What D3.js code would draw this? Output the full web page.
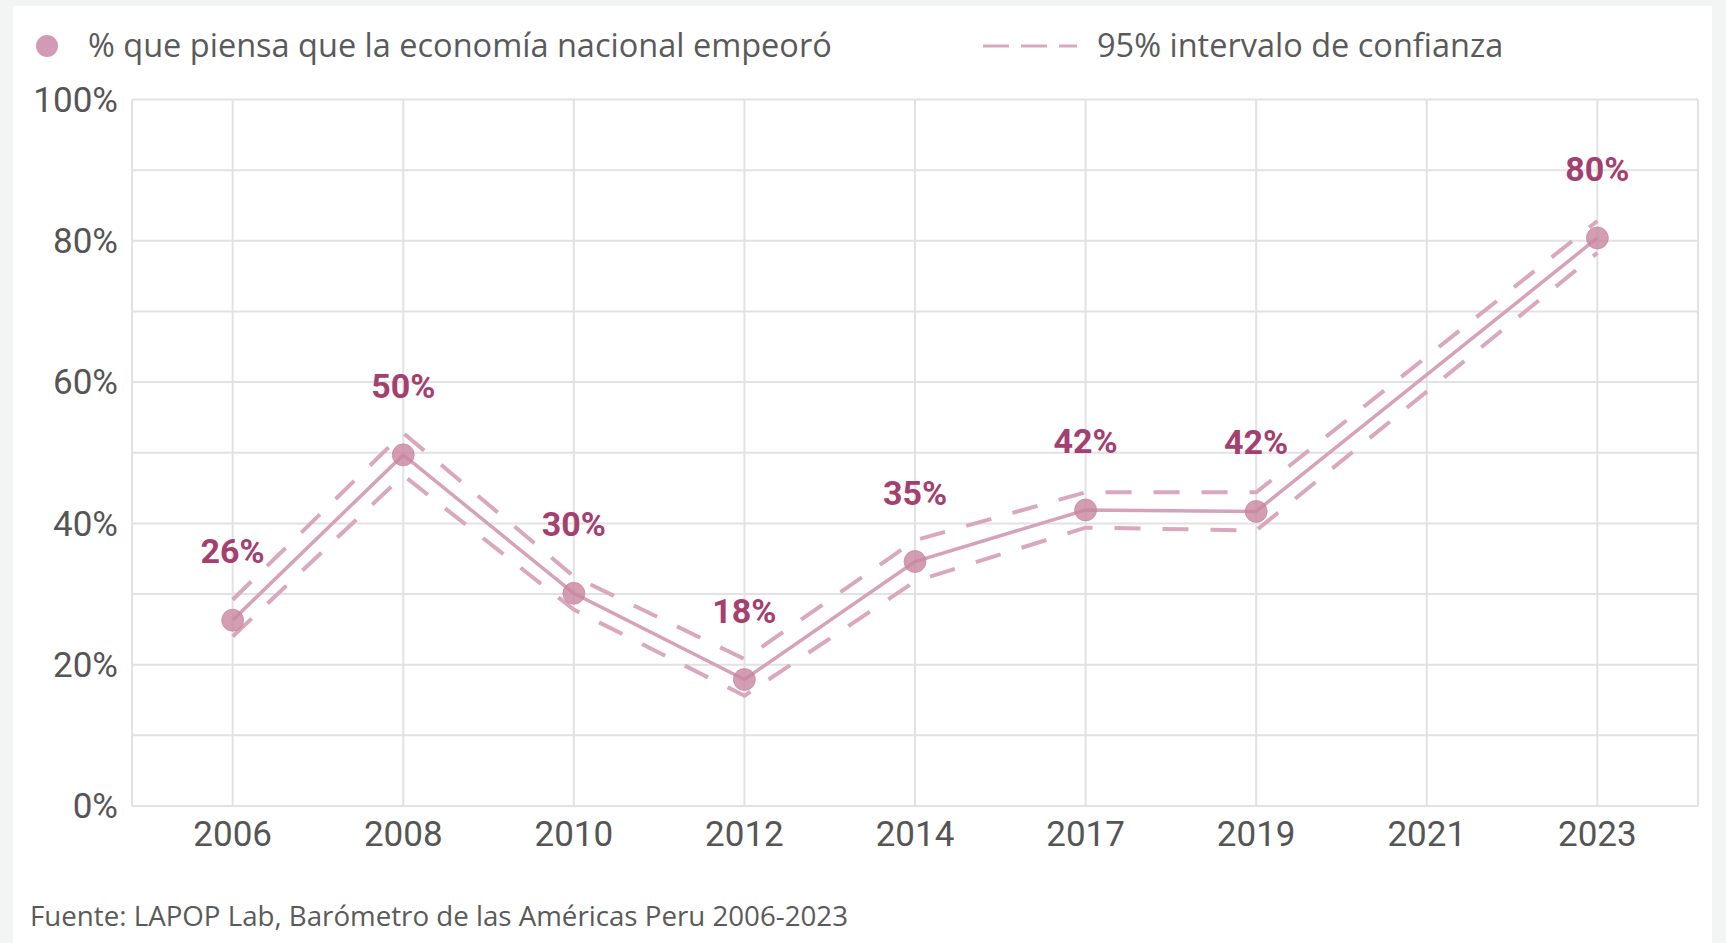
<!DOCTYPE html>
<meta charset="utf-8">
<script src="https://d3js.org/d3.v7.min.js"></script>
<style>
  body { margin: 0; background: #f3f5f5; }
  svg { display: block; }
  .tick-label { font-family: Roboto, sans-serif; font-size: 35px; fill: #555; }
  .legend, .source { font-family: "Open Sans", sans-serif; fill: #5a5a5a; }
  .val { font-family: Roboto, sans-serif; font-weight: bold; font-size: 34px; fill: #a3406f; }
</style>
<body></body>
<script>
  // data
  var years = ["2006", "2008", "2010", "2012", "2014", "2017", "2019", "2021", "2023"];
  var values = [26.3, 49.7, 30.1, 17.9, 34.6, 41.9, 41.7, null, 80.4];
  var upper  = [29.2, 52.8, 32.5, 20.8, 37.6, 44.4, 44.4, null, 82.8];
  var lower  = [24.0, 46.8, 27.8, 15.6, 31.8, 39.4, 39.0, null, 78.3];
  var yTicks = [0, 20, 40, 60, 80, 100];

  var width = 1726, height = 943;
  var margin = {top: 99.5, right: 28, bottom: 137, left: 132};

  var svg = d3.select("body").append("svg")
      .attr("width", width)
      .attr("height", height);

  // white card
  svg.append("rect")
    .attr("x", 13).attr("y", 6)
    .attr("width", 1699).attr("height", height)
    .attr("fill", "#fff");

  var x = d3.scalePoint()
    .domain(years)
    .range([margin.left, width - margin.right])
    .padding(0.59);

  var y = d3.scaleLinear()
    .domain([0, 100])
    .range([height - margin.bottom, margin.top]);

  var grid = svg.append("g");

  // horizontal grid every 10%
  grid.selectAll(".hg")
    .data(d3.range(0, 101, 10))
    .enter().append("line")
    .attr("x1", margin.left).attr("x2", width - margin.right)
    .attr("y1", function(d) { return y(d); })
    .attr("y2", function(d) { return y(d); })
    .attr("stroke", "#e2e2e2")
    .attr("stroke-width", 2);

  // vertical grid
  grid.selectAll(".vg")
    .data(years)
    .enter().append("line")
    .attr("x1", function(d) { return x(d); })
    .attr("x2", function(d) { return x(d); })
    .attr("y1", y(100)).attr("y2", y(0))
    .attr("stroke", "#e2e2e2")
    .attr("stroke-width", 2);

  grid.append("line")
    .attr("x1", margin.left).attr("x2", margin.left)
    .attr("y1", y(100)).attr("y2", y(0))
    .attr("stroke", "#e2e2e2").attr("stroke-width", 2);

  grid.append("line")
    .attr("x1", width - margin.right).attr("x2", width - margin.right)
    .attr("y1", y(100)).attr("y2", y(0))
    .attr("stroke", "#e2e2e2").attr("stroke-width", 2);

  // y labels
  svg.selectAll(".ylab")
    .data(yTicks)
    .enter().append("text")
    .attr("class", "tick-label")
    .attr("x", margin.left - 14)
    .attr("y", function(d) { return y(d); })
    .attr("dy", "0.35em")
    .attr("text-anchor", "end")
    .text(function(d) { return d + "%"; });

  // x labels
  svg.selectAll(".xlab")
    .data(years)
    .enter().append("text")
    .attr("class", "tick-label")
    .attr("x", function(d) { return x(d); })
    .attr("y", y(0) + 28)
    .attr("dy", "0.35em")
    .attr("text-anchor", "middle")
    .text(function(d) { return d; });

  var pts = years.map(function(d, i) {
    return {year: d, v: values[i], hi: upper[i], lo: lower[i]};
  }).filter(function(d) { return d.v != null; });

  var lineOf = function(key) {
    return d3.line()
      .x(function(d) { return x(d.year); })
      .y(function(d) { return y(d[key]); });
  };

  ["hi", "lo"].forEach(function(k) {
    svg.append("path")
      .datum(pts)
      .attr("d", lineOf(k))
      .attr("fill", "none")
      .attr("stroke", "#d9a7be")
      .attr("stroke-width", 4)
      .attr("stroke-dasharray", "26,22");
  });

  svg.append("path")
    .datum(pts)
    .attr("d", lineOf("v"))
    .attr("fill", "none")
    .attr("stroke", "#d6a1b9")
    .attr("stroke-width", 3.5);

  svg.selectAll(".dot")
    .data(pts)
    .enter().append("circle")
    .attr("cx", function(d) { return x(d.year); })
    .attr("cy", function(d) { return y(d.v); })
    .attr("r", 11)
    .attr("fill", "#c9869f")
    .attr("fill-opacity", 0.8)
    .attr("stroke", "#c07d9b")
    .attr("stroke-opacity", 0.6);

  svg.selectAll(".val")
    .data(pts)
    .enter().append("text")
    .attr("class", "val")
    .attr("x", function(d) { return x(d.year); })
    .attr("y", function(d) { return y(d.v) - 57; })
    .attr("text-anchor", "middle")
    .text(function(d) { return Math.round(d.v) + "%"; });

  // legend
  svg.append("circle")
    .attr("cx", 47).attr("cy", 46).attr("r", 11)
    .attr("fill", "#d39ab5");
  svg.append("text")
    .attr("class", "legend")
    .attr("x", 88).attr("y", 46).attr("dy", "0.35em")
    .style("font-size", "32.5px")
    .text("% que piensa que la economía nacional empeoró");

  svg.append("line")
    .attr("x1", 983).attr("x2", 1077)
    .attr("y1", 46).attr("y2", 46)
    .attr("stroke", "#d9a7be").attr("stroke-width", 3)
    .attr("stroke-dasharray", "26,12");
  svg.append("text")
    .attr("class", "legend")
    .attr("x", 1097).attr("y", 46).attr("dy", "0.35em")
    .style("font-size", "32.5px")
    .text("95% intervalo de confianza");

  svg.append("text")
    .attr("class", "source")
    .attr("x", 30).attr("y", 916).attr("dy", "0.35em")
    .style("font-size", "27.7px")
    .text("Fuente: LAPOP Lab, Barómetro de las Américas Peru 2006-2023");
</script>
